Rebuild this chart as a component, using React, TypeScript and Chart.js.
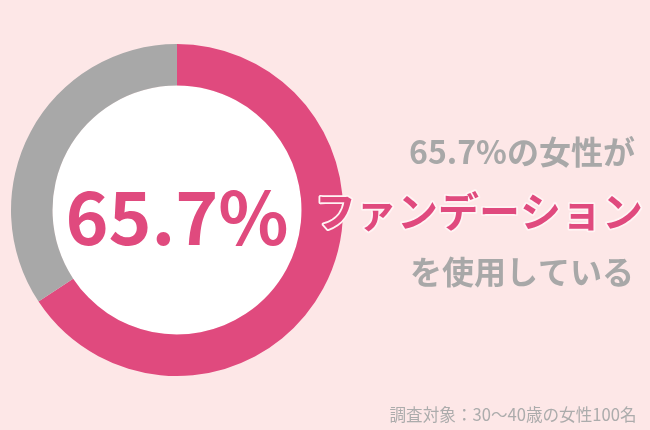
import React, { useEffect, useRef } from "react";
import { Chart, registerables } from "chart.js";

Chart.register(...registerables);

// data
const labels = ["使用している", "使用していない"];
const values = [65.7, 34.3];
const sliceColors = ["#E04A7E", "#A8A8A8"];

const centerLabel = "65.7%";
const lineTop = "65.7%の女性が";
const lineMain = "ファンデーション";
const lineBottom = "を使用している";
const footnote = "調査対象：30〜40歳の女性100名";

const BG = "#FDE7E7";
const PINK = "#E04A7E";
const GRAY = "#A8A8A8";
const FONT = '"Noto Sans CJK JP", "Noto Sans", sans-serif';

export default function App() {
  const canvasRef = useRef<HTMLCanvasElement | null>(null);
  const chartRef = useRef<Chart | null>(null);

  useEffect(() => {
    document.body.style.margin = "0";
    const ctx = canvasRef.current?.getContext("2d");
    if (!ctx) return;
    if (chartRef.current) chartRef.current.destroy();

    // background + white hole
    const backdrop = {
      id: "backdrop",
      beforeDraw: (chart: any) => {
        const c = chart.ctx;
        c.save();
        c.fillStyle = BG;
        c.fillRect(0, 0, chart.width, chart.height);
        const arc = chart.getDatasetMeta(0).data[0];
        if (arc) {
          c.fillStyle = "#FFFFFF";
          c.beginPath();
          c.arc(arc.x, arc.y, arc.innerRadius, 0, Math.PI * 2);
          c.fill();
        }
        c.restore();
      },
    };

    const texts = {
      id: "texts",
      afterDraw: (chart: any) => {
        const c = chart.ctx;
        const arc = chart.getDatasetMeta(0).data[0];
        c.save();
        c.textAlign = "center";
        c.lineJoin = "round";

        // big percentage inside the ring
        c.textBaseline = "alphabetic";
        c.fillStyle = PINK;
        c.font = `bold 73px ${FONT}`;
        c.fillText(centerLabel, arc.x, 245);

        c.textBaseline = "middle";
        c.fillStyle = GRAY;
        c.font = `bold 32px ${FONT}`;
        c.fillText(lineTop, 522, 152);

        c.font = `bold 41px ${FONT}`;
        c.strokeStyle = "#FFF4F4";
        c.lineWidth = 3.5;
        c.strokeText(lineMain, 479, 211);
        c.fillStyle = PINK;
        c.fillText(lineMain, 479, 211);

        c.fillStyle = GRAY;
        c.font = `bold 32px ${FONT}`;
        c.fillText(lineBottom, 522, 272);

        c.fillStyle = "#ACACAC";
        c.font = `16.6px ${FONT}`;
        c.fillText(footnote, 513, 415);
        c.restore();
      },
    };

    chartRef.current = new Chart(ctx, {
      type: "doughnut",
      data: {
        labels,
        datasets: [
          {
            data: values,
            backgroundColor: sliceColors,
            borderWidth: 0,
          },
        ],
      },
      options: {
        responsive: false,
        animation: false,
        cutout: "75%",
        layout: { padding: { left: 11, top: 44, right: 307, bottom: 54 } },
        plugins: {
          legend: { display: false },
          tooltip: { enabled: false },
        },
      },
      plugins: [backdrop, texts],
    });

    return () => {
      chartRef.current?.destroy();
      chartRef.current = null;
    };
  }, []);

  return (
    <div style={{ position: "fixed", left: 0, top: 0, width: 650, height: 430 }}>
      <canvas ref={canvasRef} width={650} height={430} role="img" aria-label="ファンデーション使用率 ドーナツグラフ" />
    </div>
  );
}
